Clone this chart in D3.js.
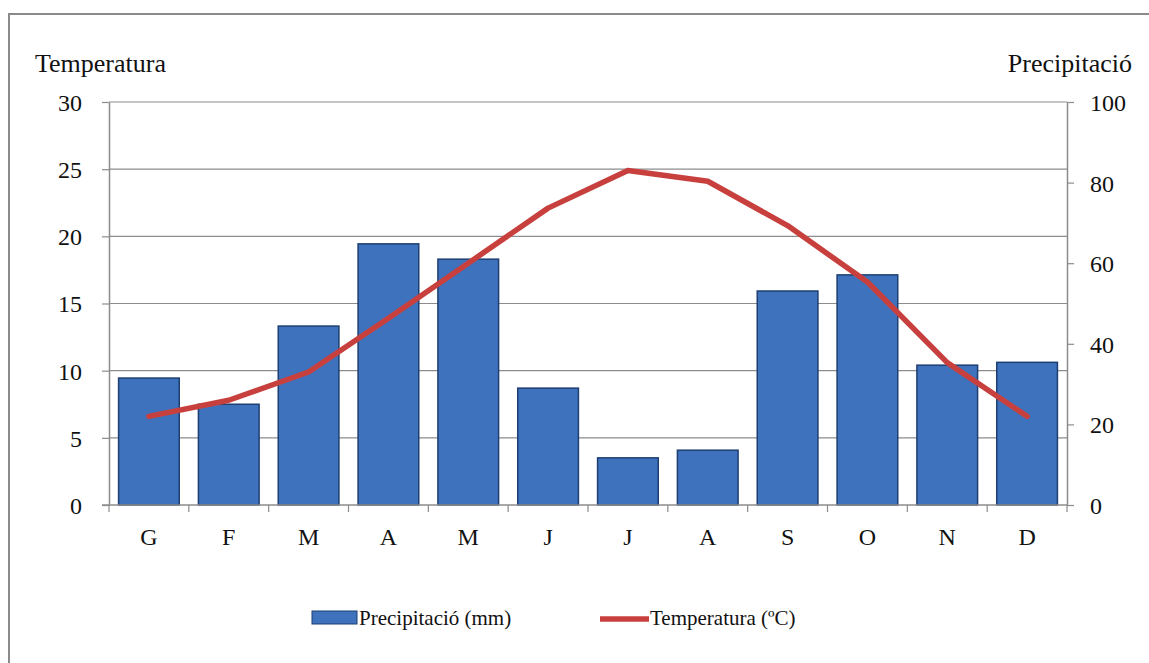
<!DOCTYPE html>
<html>
<head>
<meta charset="utf-8">
<script src="https://cdn.jsdelivr.net/npm/d3@7"></script>
<style>
  html, body { margin: 0; padding: 0; background: #fff; }
  svg { display: block; }
  svg text { font-family: "Liberation Serif", Tinos, "Times New Roman", "DejaVu Serif", serif !important; fill: #111; }
</style>
</head>
<body>
<svg id="chart" width="1149" height="663"></svg>
<script>
// Climate chart: monthly precipitation (bars, right axis) and temperature (line, left axis)
const months = ["G", "F", "M", "A", "M", "J", "J", "A", "S", "O", "N", "D"];
const precipitation = [31.5, 25.0, 44.4, 64.8, 61.0, 29.0, 11.7, 13.6, 53.1, 57.1, 34.7, 35.4];
const temperature = [6.6, 7.8, 9.9, 13.9, 18.0, 22.1, 24.9, 24.1, 20.8, 16.6, 10.6, 6.6];
const tempTicks = [0, 5, 10, 15, 20, 25, 30];
const precTicks = [0, 20, 40, 60, 80, 100];

const svg = d3.select("#chart");
const W = 1149, H = 663;
const plot = { left: 109, right: 1067, top: 102, bottom: 505 };
const TICK_FS = 24, TITLE_FS = 26, LEGEND_FS = 21;

// outer frame
svg.append("rect")
  .attr("x", 9).attr("y", 14)
  .attr("width", W).attr("height", H)
  .attr("fill", "none").attr("stroke", "#8a8a8a").attr("stroke-width", 2);

const x = d3.scaleBand()
  .domain(d3.range(months.length))
  .range([plot.left, plot.right])
  .paddingInner(0.24).paddingOuter(0.12);

const xBand = d3.scaleBand()
  .domain(d3.range(months.length))
  .range([plot.left, plot.right]);

const yT = d3.scaleLinear().domain([0, 30]).range([plot.bottom, plot.top]);
const yP = d3.scaleLinear().domain([0, 100]).range([plot.bottom, plot.top]);

// horizontal gridlines on the temperature ticks
svg.append("g")
  .selectAll("line")
  .data(tempTicks.filter(d => d > 0))
  .join("line")
  .attr("x1", plot.left).attr("x2", plot.right)
  .attr("y1", d => yT(d)).attr("y2", d => yT(d))
  .attr("stroke", "#8c8c8c").attr("stroke-width", 1.2);

// precipitation bars
svg.append("g")
  .selectAll("rect")
  .data(precipitation)
  .join("rect")
  .attr("x", (d, i) => x(i))
  .attr("width", x.bandwidth())
  .attr("y", d => yP(d))
  .attr("height", d => yP(0) - yP(d))
  .attr("fill", "#3f72bd")
  .attr("stroke", "#1d3f72")
  .attr("stroke-width", 1.5);

// left axis (temperature)
const axisL = svg.append("g")
  .attr("transform", `translate(${plot.left},0)`)
  .call(d3.axisLeft(yT).tickValues(tempTicks).tickSize(7).tickPadding(20).tickSizeOuter(0));
axisL.attr("font-family", null).attr("font-size", null);
axisL.select(".domain").attr("stroke", "#8c8c8c").attr("stroke-width", 1.5);
axisL.selectAll(".tick line").attr("stroke", "#8c8c8c").attr("stroke-width", 1.2);
axisL.selectAll(".tick text").attr("font-size", TICK_FS).attr("fill", "#111").attr("dy", "0.35em");

// right axis (precipitation)
const axisR = svg.append("g")
  .attr("transform", `translate(${plot.right},0)`)
  .call(d3.axisRight(yP).tickValues(precTicks).tickSize(7).tickPadding(16).tickSizeOuter(0));
axisR.attr("font-family", null).attr("font-size", null);
axisR.select(".domain").attr("stroke", "#8c8c8c").attr("stroke-width", 1.5);
axisR.selectAll(".tick line").attr("stroke", "#8c8c8c").attr("stroke-width", 1.2);
axisR.selectAll(".tick text").attr("font-size", TICK_FS).attr("fill", "#111").attr("dy", "0.35em");

// bottom axis: ticks on category boundaries
const boundaries = d3.range(months.length + 1).map(i => plot.left + i * xBand.step());
svg.append("line")
  .attr("x1", plot.left - 7).attr("x2", plot.right)
  .attr("y1", plot.bottom).attr("y2", plot.bottom)
  .attr("stroke", "#8c8c8c").attr("stroke-width", 1.5);
svg.append("g")
  .selectAll("line")
  .data(boundaries)
  .join("line")
  .attr("x1", d => d).attr("x2", d => d)
  .attr("y1", plot.bottom).attr("y2", plot.bottom + 7)
  .attr("stroke", "#8c8c8c").attr("stroke-width", 1.2);
svg.append("g")
  .selectAll("text")
  .data(months)
  .join("text")
  .attr("x", (d, i) => xBand(i) + xBand.bandwidth() / 2)
  .attr("y", 545)
  .attr("text-anchor", "middle")
  .attr("font-size", TICK_FS)
  .text(d => d);

// temperature line
const line = d3.line()
  .x((d, i) => xBand(i) + xBand.bandwidth() / 2)
  .y(d => yT(d));
svg.append("path")
  .datum(temperature)
  .attr("d", line)
  .attr("fill", "none")
  .attr("stroke", "#c8403e")
  .attr("stroke-width", 5.5)
  .attr("stroke-linejoin", "round")
  .attr("stroke-linecap", "round");

// axis titles
svg.append("text").attr("x", 35).attr("y", 72).attr("font-size", TITLE_FS).text("Temperatura");
svg.append("text").attr("x", 1132).attr("y", 72).attr("font-size", TITLE_FS)
  .attr("text-anchor", "end").text("Precipitació");

// legend
const lg = svg.append("g");
lg.append("rect").attr("x", 312).attr("y", 611).attr("width", 45).attr("height", 13)
  .attr("fill", "#3f72bd").attr("stroke", "#1d3f72").attr("stroke-width", 1);
lg.append("text").attr("x", 359).attr("y", 625).attr("font-size", LEGEND_FS).text("Precipitació (mm)");
lg.append("line").attr("x1", 600).attr("x2", 649).attr("y1", 619).attr("y2", 619)
  .attr("stroke", "#c8403e").attr("stroke-width", 5.5);
lg.append("text").attr("x", 650).attr("y", 625).attr("font-size", LEGEND_FS).text("Temperatura (ºC)");
</script>
</body>
</html>
